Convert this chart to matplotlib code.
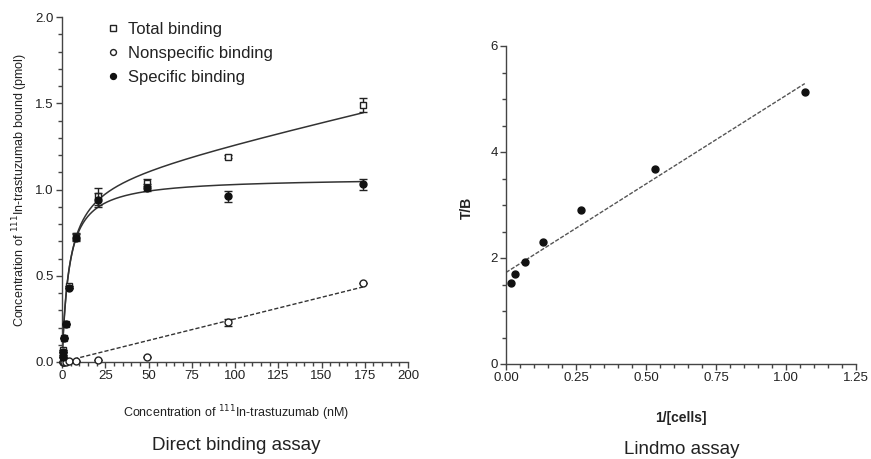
import matplotlib.pyplot as plt
from matplotlib.ticker import MultipleLocator
import numpy as np

plt.rcParams['font.family'] = ['Liberation Sans', 'DejaVu Sans']

# direct binding assay data (nM, pmol)
conc = [0.3, 0.6, 1.2, 2.2, 3.9, 8.1, 21, 49, 96, 174]
total = [0.04, 0.07, 0.14, 0.22, 0.44, 0.73, 0.96, 1.04, 1.19, 1.49]
total_err = [0.0, 0.0, 0.0, 0.0, 0.0, 0.02, 0.05, 0.02, 0.01, 0.04]
nonspec = [0.0, 0.0, 0.0, 0.0, 0.005, 0.005, 0.01, 0.03, 0.23, 0.46]
nonspec_err = [0.0, 0.0, 0.0, 0.0, 0.0, 0.0, 0.0, 0.0, 0.02, 0.0]
specific = [0.03, 0.06, 0.14, 0.22, 0.43, 0.72, 0.94, 1.01, 0.96, 1.03]
specific_err = [0.0, 0.0, 0.0, 0.0, 0.0, 0.02, 0.04, 0.02, 0.03, 0.03]

# fitted parameters (one site binding)
bmax = 1.07
kd_spec = 4.0
kd_total = 4.2
ns_slope = 0.0023

# lindmo assay data
inv_cells = [0.0167, 0.033, 0.067, 0.133, 0.267, 0.533, 1.067]
tb = [1.53, 1.69, 1.92, 2.31, 2.91, 3.67, 5.13]

fig = plt.figure(figsize=(8.71, 4.59), dpi=100)
W, H = 871, 459
txt = '#222222'
line_c = '#333333'

def style_axes(ax):
    for s in ['top', 'right']:
        ax.spines[s].set_visible(False)
    for s in ['left', 'bottom']:
        ax.spines[s].set_color('#444444')
        ax.spines[s].set_linewidth(1.0)
    ax.tick_params(which='major', direction='out', length=4, width=1.0,
                   color='#444444', labelsize=9.5, labelcolor=txt, pad=2)
    ax.tick_params(which='minor', direction='out', length=3, width=1.0,
                   color='#444444')

# left panel
ax1 = fig.add_axes([62 / W, 1 - 362 / H, (408 - 62) / W, (362 - 17) / H])
style_axes(ax1)
ax1.set_xlim(0, 200)
ax1.set_ylim(0, 2.0)
ax1.xaxis.set_major_locator(MultipleLocator(25))
ax1.xaxis.set_minor_locator(MultipleLocator(5))
ax1.yaxis.set_major_locator(MultipleLocator(0.5))
ax1.yaxis.set_minor_locator(MultipleLocator(0.1))
ax1.yaxis.set_major_formatter(plt.FormatStrFormatter('%.1f'))

xs = np.linspace(0, 174, 400)
ax1.plot(xs, bmax * xs / (kd_total + xs) + ns_slope * xs, color=line_c, lw=1.1)
ax1.plot(xs, bmax * xs / (kd_spec + xs), color=line_c, lw=1.1)
ax1.plot(xs, 0.0025 * xs, color=line_c, lw=1.0, ls=(0, (3, 1.5)))

ax1.errorbar(conc, total, yerr=total_err, fmt='s', ms=5, mfc='white',
             mec='#222222', mew=1.0, ecolor='#222222', elinewidth=1, capsize=3,
             label='Total binding', clip_on=False, zorder=3)
ax1.errorbar(conc, nonspec, yerr=nonspec_err, fmt='o', ms=5, mfc='white',
             mec='#222222', mew=1.0, ecolor='#222222', elinewidth=1, capsize=3,
             label='Nonspecific binding', clip_on=False, zorder=3)
ax1.errorbar(conc, specific, yerr=specific_err, fmt='o', ms=5, mfc='#111111',
             mec='#111111', ecolor='#222222', elinewidth=1, capsize=3,
             label='Specific binding', clip_on=False, zorder=4)

h, l = ax1.get_legend_handles_labels()
h = [hh[0] for hh in h]
leg = ax1.legend(h, l, loc='upper left', bbox_to_anchor=(0.09, 1.03), frameon=False,
                 fontsize=12, handlelength=0.6, handletextpad=0.6,
                 labelspacing=0.55, markerscale=0.85)
for t in leg.get_texts():
    t.set_color(txt)

fig.text(20 / W, 1 - 190 / H,
         'Concentration of $^{111}$In-trastuzumab bound (pmol)',
         rotation=90, ha='center', va='center', fontsize=9, color=txt)
fig.text(236 / W, 1 - 413 / H, 'Concentration of $^{111}$In-trastuzumab (nM)',
         ha='center', va='center', fontsize=9, color=txt)
fig.text(236 / W, 1 - 446 / H, 'Direct binding assay',
         ha='center', va='center', fontsize=13.5, color=txt)

# right panel
ax2 = fig.add_axes([506 / W, 1 - 364 / H, (856 - 506) / W, (364 - 46) / H])
style_axes(ax2)
ax2.set_xlim(0, 1.25)
ax2.set_ylim(0, 6)
ax2.xaxis.set_major_locator(MultipleLocator(0.25))
ax2.xaxis.set_minor_locator(MultipleLocator(0.05))
ax2.yaxis.set_major_locator(MultipleLocator(2))
ax2.yaxis.set_minor_locator(MultipleLocator(0.5))
ax2.xaxis.set_major_formatter(plt.FormatStrFormatter('%.2f'))

slope, icpt = np.polyfit(inv_cells, tb, 1)
xl = np.array([0, max(inv_cells)])
ax2.plot(xl, icpt + slope * xl, color='#555555', lw=1.0, ls=(0, (3, 1.2)))
ax2.plot(inv_cells, tb, 'o', ms=5, color='#111111', zorder=3)

fig.text(467 / W, 1 - 208 / H, 'T/B', rotation=90, ha='center', va='center',
         fontsize=10, fontweight='bold', color=txt)
fig.text(681 / W, 1 - 418 / H, '1/[cells]', ha='center', va='center',
         fontsize=10, fontweight='bold', color=txt)
fig.text(682 / W, 1 - 449 / H, 'Lindmo assay', ha='center', va='center',
         fontsize=13.5, color=txt)

fig.savefig('out.png', dpi=100)
